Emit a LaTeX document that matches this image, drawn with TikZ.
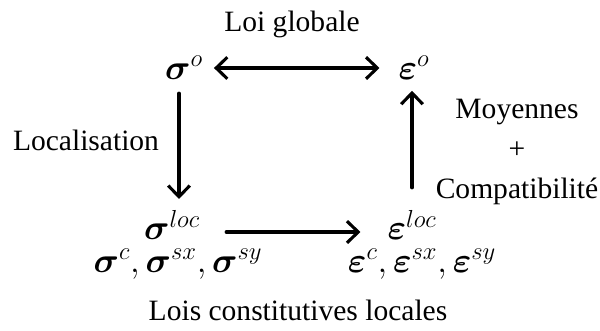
\documentclass[tikz,border=0pt]{standalone}
\usepackage{amsmath,amssymb}
\usepackage{fix-cm}
\usepackage{fontspec}
\setmainfont{Liberation Serif}
\usepackage{tikz}
\usetikzlibrary{positioning,calc,arrows.meta}

\begin{document}
\begin{tikzpicture}[x=0.025cm,y=-0.025cm,
    term/.style={inner sep=0.05cm,font=\fontsize{25}{28}\selectfont},
    lbl/.style={inner sep=0pt,align=center,font=\fontsize{21}{28.5}\selectfont},
    arrow/.style={>={Straight Barb[length=2.8mm,width=5.4mm]},->,line width=2.2pt,line join=round,line cap=round}]
\useasboundingbox (0,0) rectangle (600,330);

% Sommets du diagramme
\node[term] (sigO) at (184,68) {$\boldsymbol{\sigma}^{o}$};
\node[term] (epsO) at (414,68) {$\boldsymbol{\varepsilon}^{o}$};
\node[term] (sigLoc) at (172,225) {$\boldsymbol{\sigma}^{loc}$};
\node[term] (sigList) at (178,264) {$\boldsymbol{\sigma}^{c},\boldsymbol{\sigma}^{sx},\boldsymbol{\sigma}^{sy}$};
\node[term] (epsLoc) at (412,225) {$\boldsymbol{\varepsilon}^{loc}$};
\node[term] (epsList) at (422,264) {$\boldsymbol{\varepsilon}^{c},\boldsymbol{\varepsilon}^{sx},\boldsymbol{\varepsilon}^{sy}$};

% Etiquettes
\node[lbl] (globale) at (292,24) {Loi globale};
\node[lbl] (localisation) at (86,140) {Localisation};
\node[lbl] (moyennes) at (517,152) {Moyennes\\+\\Compatibilité};
\node[lbl] (lois) at (298,310) {Lois constitutives locales};

% Fleches
\draw[arrow,<->,shorten <=0.22cm,shorten >=0.42cm] (sigO) -- (epsO);
\draw[arrow,shorten <=0.28cm,shorten >=0.22cm] ($(sigO.south)+(-5,0)$) -- ($(sigO.south |- sigLoc.north)+(-5,0)$);
\draw[arrow,shorten <=0.5cm,shorten >=0.22cm] (epsLoc.north) -- (epsLoc.north |- epsO.south);
\draw[arrow,shorten <=0.6cm,shorten >=0.62cm] ($(sigLoc.east)+(0,7)$) -- ($(sigLoc.east -| epsLoc.west)+(0,7)$);

\end{tikzpicture}
\end{document}
